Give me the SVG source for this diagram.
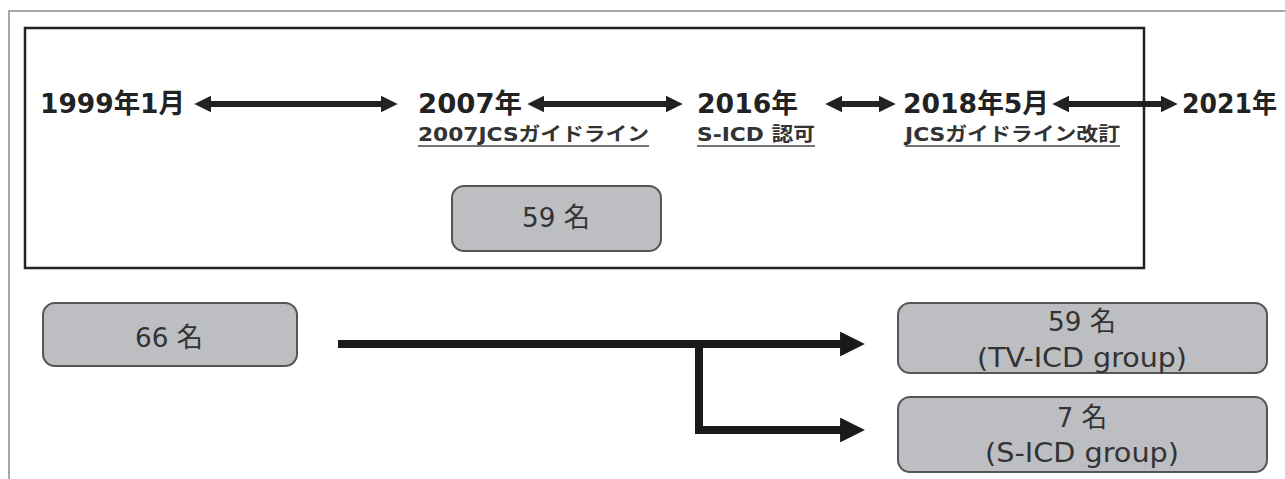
<svg xmlns="http://www.w3.org/2000/svg" width="1285" height="479" viewBox="0 0 1285 479">
<defs>
<style>
.tl{font-family:"DejaVu Sans","Noto Sans CJK JP",sans-serif;font-weight:bold;font-size:27px;fill:#222}
.sub{font-family:"DejaVu Sans","Noto Sans CJK JP",sans-serif;font-weight:bold;font-size:19px;fill:#333}
.ul{stroke:#444;stroke-width:1.5}
.box{fill:#bdbec2;stroke:#555;stroke-width:2}
.bt{font-family:"DejaVu Sans","Noto Sans CJK JP",sans-serif;font-size:27px;fill:#333;text-anchor:middle}
.tla{stroke:#222;stroke-width:6;fill:none;marker-start:url(#ah);marker-end:url(#ah)}
.con{stroke:#1a1a1a;stroke-width:8;fill:none}
</style>
<marker id="ah" viewBox="0 0 10 10" refX="6" refY="5" markerWidth="2.8" markerHeight="3" orient="auto-start-reverse" markerUnits="strokeWidth">
<path d="M0,0 L10,5 L0,10 z" fill="#222"/>
</marker>
<marker id="bh" viewBox="0 0 10 10" refX="4" refY="5" markerWidth="3.2" markerHeight="3.1" orient="auto" markerUnits="strokeWidth">
<path d="M0,0 L10,5 L0,10 z" fill="#1a1a1a"/>
</marker>
</defs>
<rect width="1285" height="479" fill="#fff"/>
<g id="frame">
<path d="M9,479 V11 H1285" fill="none" stroke="#8a8a8a" stroke-width="1.5"/>
<rect x="25" y="28" width="1119" height="240" fill="none" stroke="#222" stroke-width="2.5"/>
</g>
<g id="connectors">
<line class="tla" x1="201" y1="104" x2="391" y2="104"/>
<line class="tla" x1="534" y1="104" x2="676" y2="104"/>
<line class="tla" x1="832" y1="104" x2="889" y2="104"/>
<line class="tla" x1="1059" y1="104" x2="1171" y2="104"/>
<path class="con" d="M338,344 H850" marker-end="url(#bh)"/>
<path class="con" d="M699,340 V430 H850" marker-end="url(#bh)"/>
</g>
<g id="t1999"><text class="tl" x="40" y="113" textLength="145" lengthAdjust="spacingAndGlyphs">1999年1月</text></g>
<g id="t2007">
<text class="tl" x="418" y="113" textLength="104" lengthAdjust="spacingAndGlyphs">2007年</text>
<text class="sub" x="418" y="141" textLength="231" lengthAdjust="spacingAndGlyphs">2007JCSガイドライン</text>
<line class="ul" x1="418" y1="146" x2="649" y2="146"/>
</g>
<g id="t2016">
<text class="tl" x="697" y="113" textLength="101" lengthAdjust="spacingAndGlyphs">2016年</text>
<text class="sub" x="697" y="141" textLength="118" lengthAdjust="spacingAndGlyphs">S-ICD 認可</text>
<line class="ul" x1="697" y1="146" x2="815" y2="146"/>
</g>
<g id="t2018">
<text class="tl" x="903" y="113" textLength="146" lengthAdjust="spacingAndGlyphs">2018年5月</text>
<text class="sub" x="905" y="141" textLength="215" lengthAdjust="spacingAndGlyphs">JCSガイドライン改訂</text>
<line class="ul" x1="905" y1="146" x2="1120" y2="146"/>
</g>
<g id="t2021"><text class="tl" x="1182" y="113" textLength="95" lengthAdjust="spacingAndGlyphs">2021年</text></g>
<g id="n59top">
<rect class="box" x="452" y="186" width="209" height="65" rx="12"/>
<text class="bt" x="556" y="227" textLength="68" lengthAdjust="spacingAndGlyphs">59 名</text>
</g>
<g id="n66">
<rect class="box" x="43" y="303" width="254" height="63" rx="12"/>
<text class="bt" x="169" y="347" textLength="68" lengthAdjust="spacingAndGlyphs">66 名</text>
</g>
<g id="ntv">
<rect class="box" x="898" y="303" width="369" height="70" rx="12"/>
<text class="bt" x="1082" y="331" textLength="68" lengthAdjust="spacingAndGlyphs">59 名</text>
<text class="bt" x="1082" y="367" textLength="210" lengthAdjust="spacingAndGlyphs">(TV-ICD group)</text>
</g>
<g id="ns">
<rect class="box" x="898" y="397" width="369" height="75" rx="12"/>
<text class="bt" x="1082" y="427" textLength="50" lengthAdjust="spacingAndGlyphs">7 名</text>
<text class="bt" x="1082" y="462" textLength="194" lengthAdjust="spacingAndGlyphs">(S-ICD group)</text>
</g>
</svg>
